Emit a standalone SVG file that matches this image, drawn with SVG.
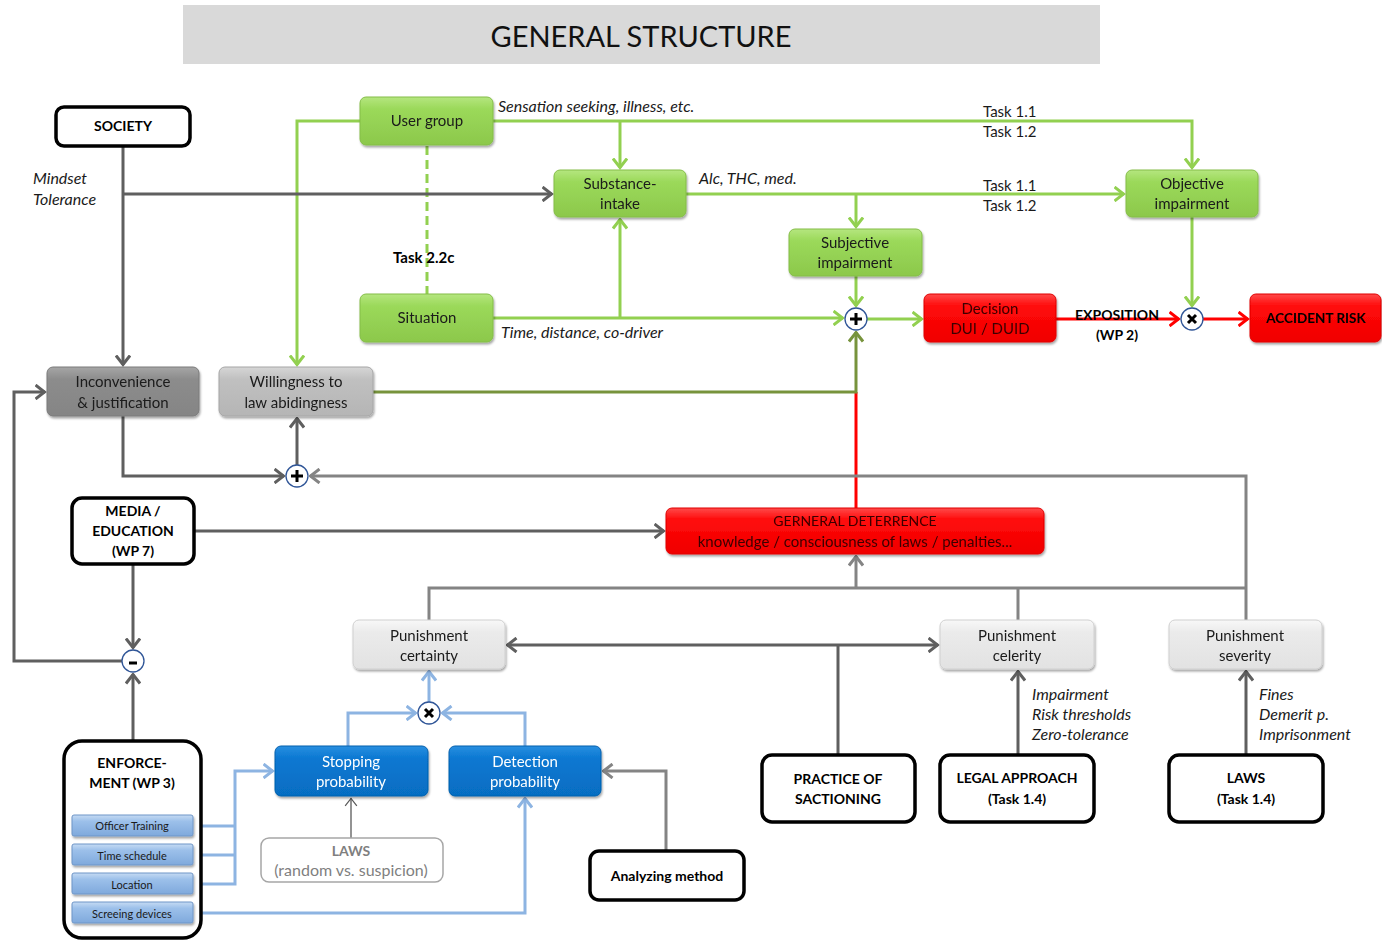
<svg xmlns="http://www.w3.org/2000/svg" width="1382" height="941" viewBox="0 0 1382 941">
<defs>
  <style>
    text { font-family: Lato, "Open Sans", "Liberation Sans", sans-serif; fill: #1a1a1a; }
    .t { font-size: 15px; text-anchor: middle; }
    .b { font-size: 14px; font-weight: bold; text-anchor: middle; fill: #000; }
    .lbl { font-size: 15px; }
    .it { font-size: 16px; font-style: italic; }
    .sub { font-size: 11px; text-anchor: middle; }
    .w { fill: #ffffff; }
    .frame { fill: #ffffff; stroke: #000; stroke-width: 3.5; }
    .ln { fill: none; stroke-width: 3; stroke-linejoin: miter; }
    .green { stroke: #92d050; }
    .olive { stroke: #77933c; }
    .red { stroke: #ff0000; }
    .dark { stroke: #5f5f5f; }
    .gray { stroke: #848484; }
    .blue { stroke: #8db4e2; }
    .junc { fill: #ffffff; stroke: #2f5597; stroke-width: 1.3; }
    .sym { stroke: #000; stroke-width: 3; fill: none; }
  </style>
  <linearGradient id="gGreen" x1="0" y1="0" x2="0" y2="1">
    <stop offset="0" stop-color="#b5e67f"/><stop offset="0.25" stop-color="#9bd95a"/><stop offset="1" stop-color="#8cc84b"/>
  </linearGradient>
  <linearGradient id="gRed" x1="0" y1="0" x2="0" y2="1">
    <stop offset="0" stop-color="#ff4a4a"/><stop offset="0.25" stop-color="#ff0a0a"/><stop offset="1" stop-color="#f00000"/>
  </linearGradient>
  <linearGradient id="gDark" x1="0" y1="0" x2="0" y2="1">
    <stop offset="0" stop-color="#a6a6a6"/><stop offset="0.25" stop-color="#8c8c8c"/><stop offset="1" stop-color="#858585"/>
  </linearGradient>
  <linearGradient id="gMid" x1="0" y1="0" x2="0" y2="1">
    <stop offset="0" stop-color="#d6d6d6"/><stop offset="0.25" stop-color="#c0c0c0"/><stop offset="1" stop-color="#b5b5b5"/>
  </linearGradient>
  <linearGradient id="gLight" x1="0" y1="0" x2="0" y2="1">
    <stop offset="0" stop-color="#f8f8f8"/><stop offset="0.25" stop-color="#ebebeb"/><stop offset="1" stop-color="#e2e2e2"/>
  </linearGradient>
  <linearGradient id="gBlue" x1="0" y1="0" x2="0" y2="1">
    <stop offset="0" stop-color="#2a8fe0"/><stop offset="0.25" stop-color="#0a78d2"/><stop offset="1" stop-color="#066dc2"/>
  </linearGradient>
  <linearGradient id="gBar" x1="0" y1="0" x2="0" y2="1">
    <stop offset="0" stop-color="#c6dbf3"/><stop offset="0.3" stop-color="#9cc0ea"/><stop offset="1" stop-color="#7fa9dc"/>
  </linearGradient>
  <filter id="sh" x="-10%" y="-20%" width="120%" height="150%">
    <feDropShadow dx="1" dy="2" stdDeviation="1" flood-color="#000" flood-opacity="0.35"/>
  </filter>
  <marker id="aGreen" viewBox="0 0 12 16" refX="10.5" refY="8" markerWidth="12" markerHeight="16" markerUnits="userSpaceOnUse" orient="auto"><path d="M1,1 L10,8 L1,15" fill="none" stroke="#92d050" stroke-width="3"/></marker>
  <marker id="aOlive" viewBox="0 0 12 16" refX="10.5" refY="8" markerWidth="12" markerHeight="16" markerUnits="userSpaceOnUse" orient="auto"><path d="M1,1 L10,8 L1,15" fill="none" stroke="#77933c" stroke-width="3"/></marker>
  <marker id="aRed" viewBox="0 0 12 16" refX="10.5" refY="8" markerWidth="12" markerHeight="16" markerUnits="userSpaceOnUse" orient="auto"><path d="M1,1 L10,8 L1,15" fill="none" stroke="#ff0000" stroke-width="3"/></marker>
  <marker id="aDark" viewBox="0 0 12 16" refX="10.5" refY="8" markerWidth="12" markerHeight="16" markerUnits="userSpaceOnUse" orient="auto"><path d="M1,1 L10,8 L1,15" fill="none" stroke="#5f5f5f" stroke-width="3"/></marker>
  <marker id="aGray" viewBox="0 0 12 16" refX="10.5" refY="8" markerWidth="12" markerHeight="16" markerUnits="userSpaceOnUse" orient="auto"><path d="M1,1 L10,8 L1,15" fill="none" stroke="#848484" stroke-width="3"/></marker>
  <marker id="aGrayS" viewBox="0 0 12 16" refX="1.5" refY="8" markerWidth="12" markerHeight="16" markerUnits="userSpaceOnUse" orient="auto"><path d="M11,1 L2,8 L11,15" fill="none" stroke="#5f5f5f" stroke-width="3"/></marker>
  <marker id="aBlue" viewBox="0 0 12 16" refX="10.5" refY="8" markerWidth="12" markerHeight="16" markerUnits="userSpaceOnUse" orient="auto"><path d="M1,1 L10,8 L1,15" fill="none" stroke="#8db4e2" stroke-width="3"/></marker>
  <marker id="aThin" viewBox="0 0 12 16" refX="10.5" refY="8" markerWidth="10" markerHeight="14" markerUnits="userSpaceOnUse" orient="auto"><path d="M1,1 L10,8 L1,15" fill="none" stroke="#595959" stroke-width="1.5"/></marker>
</defs>

<rect width="1382" height="941" fill="#ffffff"/>

<!-- title banner -->
<g id="title">
  <rect x="183" y="5" width="917" height="59" fill="#d9d9d9"/>
  <text x="641" y="47" style="font-size:29px;text-anchor:middle;fill:#111">GENERAL STRUCTURE</text>
</g>

<!-- connectors -->
<g id="connectors">
  <!-- green flows -->
  <path class="ln green" d="M493,121 H1192 V168" marker-end="url(#aGreen)"/>
  <path class="ln green" d="M620,121 V168" marker-end="url(#aGreen)"/>
  <path class="ln green" d="M360,121 H297 V365" marker-end="url(#aGreen)"/>
  <path class="ln green" d="M427,146 V294" stroke-dasharray="9,5"/>
  <path class="ln green" d="M686,194 H1124" marker-end="url(#aGreen)"/>
  <path class="ln green" d="M856,194 V227" marker-end="url(#aGreen)"/>
  <path class="ln green" d="M493,318 H843" marker-end="url(#aGreen)"/>
  <path class="ln green" d="M620,318 V219" marker-end="url(#aGreen)"/>
  <path class="ln green" d="M856,276 V306" marker-end="url(#aGreen)"/>
  <path class="ln green" d="M867,319 H922" marker-end="url(#aGreen)"/>
  <path class="ln green" d="M1192,217 V306" marker-end="url(#aGreen)"/>
  <!-- willingness into the sum -->
  <path class="ln red" d="M856,508 V392"/>
  <path class="ln olive" d="M373,392 H856 V332" marker-end="url(#aOlive)"/>
  <!-- red risk chain -->
  <path class="ln red" d="M1056,319 H1179" marker-end="url(#aRed)"/>
  <path class="ln red" d="M1203,319 H1248" marker-end="url(#aRed)"/>
  <!-- society -->
  <path class="ln dark" d="M123,146 V365" marker-end="url(#aDark)"/>
  <path class="ln dark" d="M123,194 H552" marker-end="url(#aDark)"/>
  <path class="ln dark" d="M123,416 V476 H284" marker-end="url(#aDark)"/>
  <path class="ln dark" d="M297,465 V418" marker-end="url(#aDark)"/>
  <path class="ln gray" d="M1246,620 V476 H310" marker-end="url(#aGray)"/>
  <!-- media / enforcement -->
  <path class="ln dark" d="M194,531 H664" marker-end="url(#aDark)"/>
  <path class="ln dark" d="M133,564 V648" marker-end="url(#aDark)"/>
  <path class="ln dark" d="M122,661 H14 V392 H45" marker-end="url(#aDark)"/>
  <path class="ln dark" d="M133,741 V674" marker-end="url(#aDark)"/>
  <!-- punishment bus to deterrence -->
  <path class="ln gray" d="M429,620 V588 H1246"/>
  <path class="ln gray" d="M1018,620 V588"/>
  <path class="ln gray" d="M856,588 V556" marker-end="url(#aGray)"/>
  <!-- sanctioning practice -->
  <path class="ln dark" d="M507,645 H938" marker-start="url(#aGrayS)" marker-end="url(#aDark)"/>
  <path class="ln dark" d="M838,754 V645"/>
  <path class="ln dark" d="M1018,754 V671" marker-end="url(#aDark)"/>
  <path class="ln dark" d="M1246,754 V671" marker-end="url(#aDark)"/>
  <path class="ln gray" d="M666,851 V771 H603" marker-end="url(#aGray)"/>
  <!-- enforcement probabilities -->
  <path class="ln blue" d="M348,746 V713 H416" marker-end="url(#aBlue)"/>
  <path class="ln blue" d="M525,746 V713 H442" marker-end="url(#aBlue)"/>
  <path class="ln blue" d="M429,702 V671" marker-end="url(#aBlue)"/>
  <path class="ln blue" d="M193,826 H235 M193,855 H235 M193,884 H235 V771 H273" marker-end="url(#aBlue)"/>
  <path class="ln blue" d="M193,913 H525 V798" marker-end="url(#aBlue)"/>
  <path d="M351,838 V798" fill="none" stroke="#595959" stroke-width="1.3" marker-end="url(#aThin)"/>
</g>

<!-- connector labels -->
<g id="labels">
  <text class="it" x="498" y="112">Sensation seeking, illness, etc.</text>
  <text class="lbl" x="983" y="117">Task 1.1</text>
  <text class="lbl" x="983" y="137">Task 1.2</text>
  <text class="it" x="33" y="184">Mindset</text>
  <text class="it" x="33" y="205">Tolerance</text>
  <text class="it" x="699" y="184">Alc, THC, med.</text>
  <text class="lbl" x="983" y="191">Task 1.1</text>
  <text class="lbl" x="983" y="211">Task 1.2</text>
  <text class="lbl" x="393" y="263" style="font-weight:bold;fill:#000">Task 2.2c</text>
  <text class="it" x="501" y="338">Time, distance, co-driver</text>
  <text class="b" x="1117" y="320">EXPOSITION</text>
  <text class="b" x="1117" y="340">(WP 2)</text>
  <text class="it" x="1032" y="700">Impairment</text>
  <text class="it" x="1032" y="720">Risk thresholds</text>
  <text class="it" x="1032" y="740">Zero-tolerance</text>
  <text class="it" x="1259" y="700">Fines</text>
  <text class="it" x="1259" y="720">Demerit p.</text>
  <text class="it" x="1259" y="740">Imprisonment</text>
</g>

<!-- junctions -->
<g id="sum-impairment"><circle class="junc" cx="856" cy="319" r="11"/><path class="sym" d="M850,319 H862 M856,313 V325"/></g>
<g id="product-risk"><circle class="junc" cx="1192" cy="319" r="11"/><path class="sym" d="M1188,315 L1196,323 M1196,315 L1188,323"/></g>
<g id="sum-willingness"><circle class="junc" cx="297" cy="476" r="11"/><path class="sym" d="M291,476 H303 M297,470 V482"/></g>
<g id="minus-inconvenience"><circle class="junc" cx="133" cy="661" r="11"/><path class="sym" d="M129,663 H137"/></g>
<g id="product-certainty"><circle class="junc" cx="429" cy="713" r="11"/><path class="sym" d="M425,709 L433,717 M433,709 L425,717"/></g>

<!-- nodes -->
<g id="society"><rect class="frame" x="56" y="107" width="134" height="39" rx="8"/><text class="b" x="123" y="131">SOCIETY</text></g>

<g id="user-group" filter="url(#sh)"><rect x="360" y="97" width="133" height="48" rx="6" fill="url(#gGreen)" stroke="#84bd48"/><text class="t" x="427" y="126">User group</text></g>
<g id="substance-intake" filter="url(#sh)"><rect x="554" y="170" width="132" height="47" rx="6" fill="url(#gGreen)" stroke="#84bd48"/><text class="t" x="620" y="189">Substance-</text><text class="t" x="620" y="209">intake</text></g>
<g id="objective-impairment" filter="url(#sh)"><rect x="1126" y="170" width="132" height="47" rx="6" fill="url(#gGreen)" stroke="#84bd48"/><text class="t" x="1192" y="189">Objective</text><text class="t" x="1192" y="209">impairment</text></g>
<g id="subjective-impairment" filter="url(#sh)"><rect x="789" y="229" width="133" height="47" rx="6" fill="url(#gGreen)" stroke="#84bd48"/><text class="t" x="855" y="248">Subjective</text><text class="t" x="855" y="268">impairment</text></g>
<g id="situation" filter="url(#sh)"><rect x="360" y="294" width="133" height="48" rx="6" fill="url(#gGreen)" stroke="#84bd48"/><text class="t" x="427" y="323">Situation</text></g>

<g id="decision" filter="url(#sh)"><rect x="924" y="294" width="132" height="48" rx="6" fill="url(#gRed)" stroke="#e00000"/><text class="t" x="990" y="314" style="fill:#3a0000">Decision</text><text class="t" x="990" y="334" style="fill:#3a0000">DUI / DUID</text></g>
<g id="accident-risk" filter="url(#sh)"><rect x="1250" y="294" width="131" height="48" rx="6" fill="url(#gRed)" stroke="#e00000"/><text class="b" x="1316" y="323" style="font-size:13.5px">ACCIDENT RISK</text></g>

<g id="inconvenience" filter="url(#sh)"><rect x="47" y="367" width="152" height="49" rx="6" fill="url(#gDark)" stroke="#7a7a7a"/><text class="t" x="123" y="387">Inconvenience</text><text class="t" x="123" y="408">&amp; justification</text></g>
<g id="willingness" filter="url(#sh)"><rect x="219" y="367" width="154" height="49" rx="6" fill="url(#gMid)" stroke="#a6a6a6"/><text class="t" x="296" y="387">Willingness to</text><text class="t" x="296" y="408">law abidingness</text></g>

<g id="media-education"><rect class="frame" x="72" y="498" width="122" height="66" rx="10"/><text class="b" x="133" y="516">MEDIA /</text><text class="b" x="133" y="536">EDUCATION</text><text class="b" x="133" y="556">(WP 7)</text></g>

<g id="general-deterrence" filter="url(#sh)"><rect x="666" y="508" width="378" height="46" rx="6" fill="url(#gRed)" stroke="#e00000"/><text class="t" x="855" y="526" style="fill:#3a0000;font-size:14px">GERNERAL DETERRENCE</text><text class="t" x="855" y="547" style="fill:#3a0000">knowledge / consciousness of laws / penalties...</text></g>

<g id="punishment-certainty" filter="url(#sh)"><rect x="353" y="620" width="152" height="49" rx="6" fill="url(#gLight)" stroke="#d0d0d0"/><text class="t" x="429" y="641">Punishment</text><text class="t" x="429" y="661">certainty</text></g>
<g id="punishment-celerity" filter="url(#sh)"><rect x="940" y="620" width="154" height="49" rx="6" fill="url(#gLight)" stroke="#d0d0d0"/><text class="t" x="1017" y="641">Punishment</text><text class="t" x="1017" y="661">celerity</text></g>
<g id="punishment-severity" filter="url(#sh)"><rect x="1169" y="620" width="153" height="49" rx="6" fill="url(#gLight)" stroke="#d0d0d0"/><text class="t" x="1245" y="641">Punishment</text><text class="t" x="1245" y="661">severity</text></g>

<g id="stopping-probability" filter="url(#sh)"><rect x="275" y="746" width="153" height="50" rx="6" fill="url(#gBlue)" stroke="#0560ad"/><text class="t w" x="351" y="767">Stopping</text><text class="t w" x="351" y="787">probability</text></g>
<g id="detection-probability" filter="url(#sh)"><rect x="449" y="746" width="152" height="50" rx="6" fill="url(#gBlue)" stroke="#0560ad"/><text class="t w" x="525" y="767">Detection</text><text class="t w" x="525" y="787">probability</text></g>

<g id="enforcement">
  <rect class="frame" x="64" y="741" width="137" height="197" rx="18"/>
  <text class="b" x="132" y="768">ENFORCE-</text>
  <text class="b" x="132" y="788">MENT (WP 3)</text>
  <g filter="url(#sh)">
    <rect x="72" y="815" width="121" height="21" rx="2" fill="url(#gBar)" stroke="#6f96c8"/>
    <rect x="72" y="844" width="121" height="21" rx="2" fill="url(#gBar)" stroke="#6f96c8"/>
    <rect x="72" y="873" width="121" height="21" rx="2" fill="url(#gBar)" stroke="#6f96c8"/>
    <rect x="72" y="902" width="121" height="21" rx="2" fill="url(#gBar)" stroke="#6f96c8"/>
  </g>
  <text class="sub" x="132" y="830">Officer Training</text>
  <text class="sub" x="132" y="860">Time schedule</text>
  <text class="sub" x="132" y="889">Location</text>
  <text class="sub" x="132" y="918">Screeing devices</text>
</g>

<g id="laws-random"><rect x="261" y="838" width="182" height="44" rx="8" fill="#ffffff" stroke="#a6a6a6" stroke-width="1.5"/><text class="t" x="351" y="856" style="fill:#7f7f7f;font-weight:bold;font-size:14px">LAWS</text><text class="t" x="351" y="876" style="fill:#7f7f7f;font-size:16px">(random vs. suspicion)</text></g>

<g id="analyzing-method"><rect class="frame" x="590" y="851" width="154" height="49" rx="9"/><text class="b" x="667" y="881">Analyzing method</text></g>
<g id="practice-of-sanctioning"><rect class="frame" x="762" y="755" width="153" height="67" rx="10"/><text class="b" x="838" y="784">PRACTICE OF</text><text class="b" x="838" y="804">SACTIONING</text></g>
<g id="legal-approach"><rect class="frame" x="940" y="755" width="154" height="67" rx="10"/><text class="b" x="1017" y="783">LEGAL APPROACH</text><text class="b" x="1017" y="804">(Task 1.4)</text></g>
<g id="laws-task"><rect class="frame" x="1169" y="755" width="154" height="67" rx="10"/><text class="b" x="1246" y="783">LAWS</text><text class="b" x="1246" y="804">(Task 1.4)</text></g>
</svg>
